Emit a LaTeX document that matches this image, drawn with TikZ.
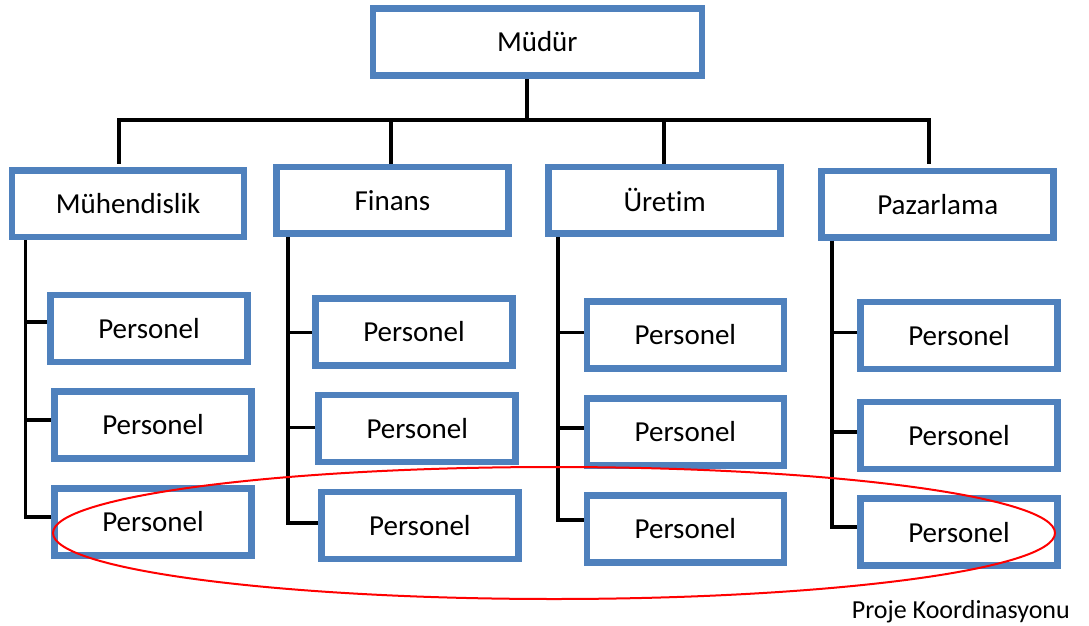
\documentclass[tikz,border=0pt]{standalone}
\usepackage{fontspec}
\setmainfont{Carlito}[Ligatures=NoCommon]
\usetikzlibrary{shapes.geometric}
\definecolor{boxblue}{RGB}{79,129,189}
\definecolor{ringred}{RGB}{255,0,0}
\begin{document}
\begin{tikzpicture}[x=1pt,y=-1pt,
  orgbox/.style={draw=boxblue, line width=6.5pt, fill=white, inner sep=0pt, font=\fontsize{29}{34}\selectfont},
  deptbox/.style={orgbox, minimum width=232pt, minimum height=66.5pt},
  staffbox/.style={orgbox, minimum width=197pt, minimum height=67pt},
  link/.style={draw=black, line width=3.6pt, line join=miter}]
\useasboundingbox (0,0) rectangle (1089,626);

% boxes
\node[orgbox, minimum width=329pt, minimum height=67.2pt] (mudur) at (537.3,41.9) {Müdür};
\node[deptbox] (muh) at (128.1,203.5) {Mühendislik};
\node[deptbox] (fin) at (392.5,200.3) {Finans};
\node[deptbox] (ure) at (664.6,200.3) {Üretim};
\node[deptbox] (paz) at (937.7,204.2) {Pazarlama};

\node[staffbox] (m1) at (149,328.3) {Personel};
\node[staffbox] (m2) at (153,425) {Personel};
\node[staffbox] (m3) at (153,522) {Personel};
\node[staffbox] (f1) at (414,332) {Personel};
\node[staffbox] (f2) at (417.2,428.7) {Personel};
\node[staffbox] (f3) at (419.9,525.7) {Personel};
\node[staffbox] (u1) at (685.4,335) {Personel};
\node[staffbox] (u2) at (685.4,432) {Personel};
\node[staffbox] (u3) at (685.4,529) {Personel};
\node[staffbox] (p1) at (959,335.5) {Personel};
\node[staffbox] (p2) at (959,435.7) {Personel};
\node[staffbox] (p3) at (959,532.2) {Personel};

% top-level connectors
\coordinate (hub) at (527,120);
\coordinate (bl) at (119,120);
\coordinate (bf) at (391,120);
\coordinate (bu) at (664,120);
\coordinate (br) at (929,120);
\coordinate (dl) at (119,163.5);
\coordinate (df) at (391,163.5);
\coordinate (du) at (664,163.5);
\coordinate (dr) at (929,164);
\draw[link] (mudur.south -| hub) -- (hub);
\draw[link] (dl) -- (bl) -- (br) -- (dr);
\draw[link] (bf) -- (df);
\draw[link] (bu) -- (du);

% staff spines
\coordinate (mk1) at (25.4,322);   \coordinate (mk2) at (25.4,420);   \coordinate (mk3) at (25.4,517);
\coordinate (fk1) at (288,332.3);  \coordinate (fk2) at (288,427.3);  \coordinate (fk3) at (288,522.7);
\coordinate (uk1) at (558,332.3);  \coordinate (uk2) at (558,428);    \coordinate (uk3) at (558,520);
\coordinate (pk1) at (832,332.3);  \coordinate (pk2) at (832,432);    \coordinate (pk3) at (832,526.7);
\foreach \col/\dep in {m/muh,f/fin,u/ure,p/paz}{
  \draw[link] (\dep.south -| \col k3) -- (\col k3) -- (\col k3 -| \col3.west);
  \draw[link] (\col k1) -- (\col k1 -| \col1.west);
  \draw[link] (\col k2) -- (\col k2 -| \col2.west);
}

% project coordination ring
\node[ellipse, draw=ringred, line width=2pt, inner sep=0pt, minimum width=1002pt, minimum height=132pt] (ring) at (554,533) {};
\node[anchor=east, inner sep=0pt, font=\fontsize{26}{30}\selectfont] (proj) at (1070,612) {Proje Koordinasyonu};
\end{tikzpicture}
\end{document}
